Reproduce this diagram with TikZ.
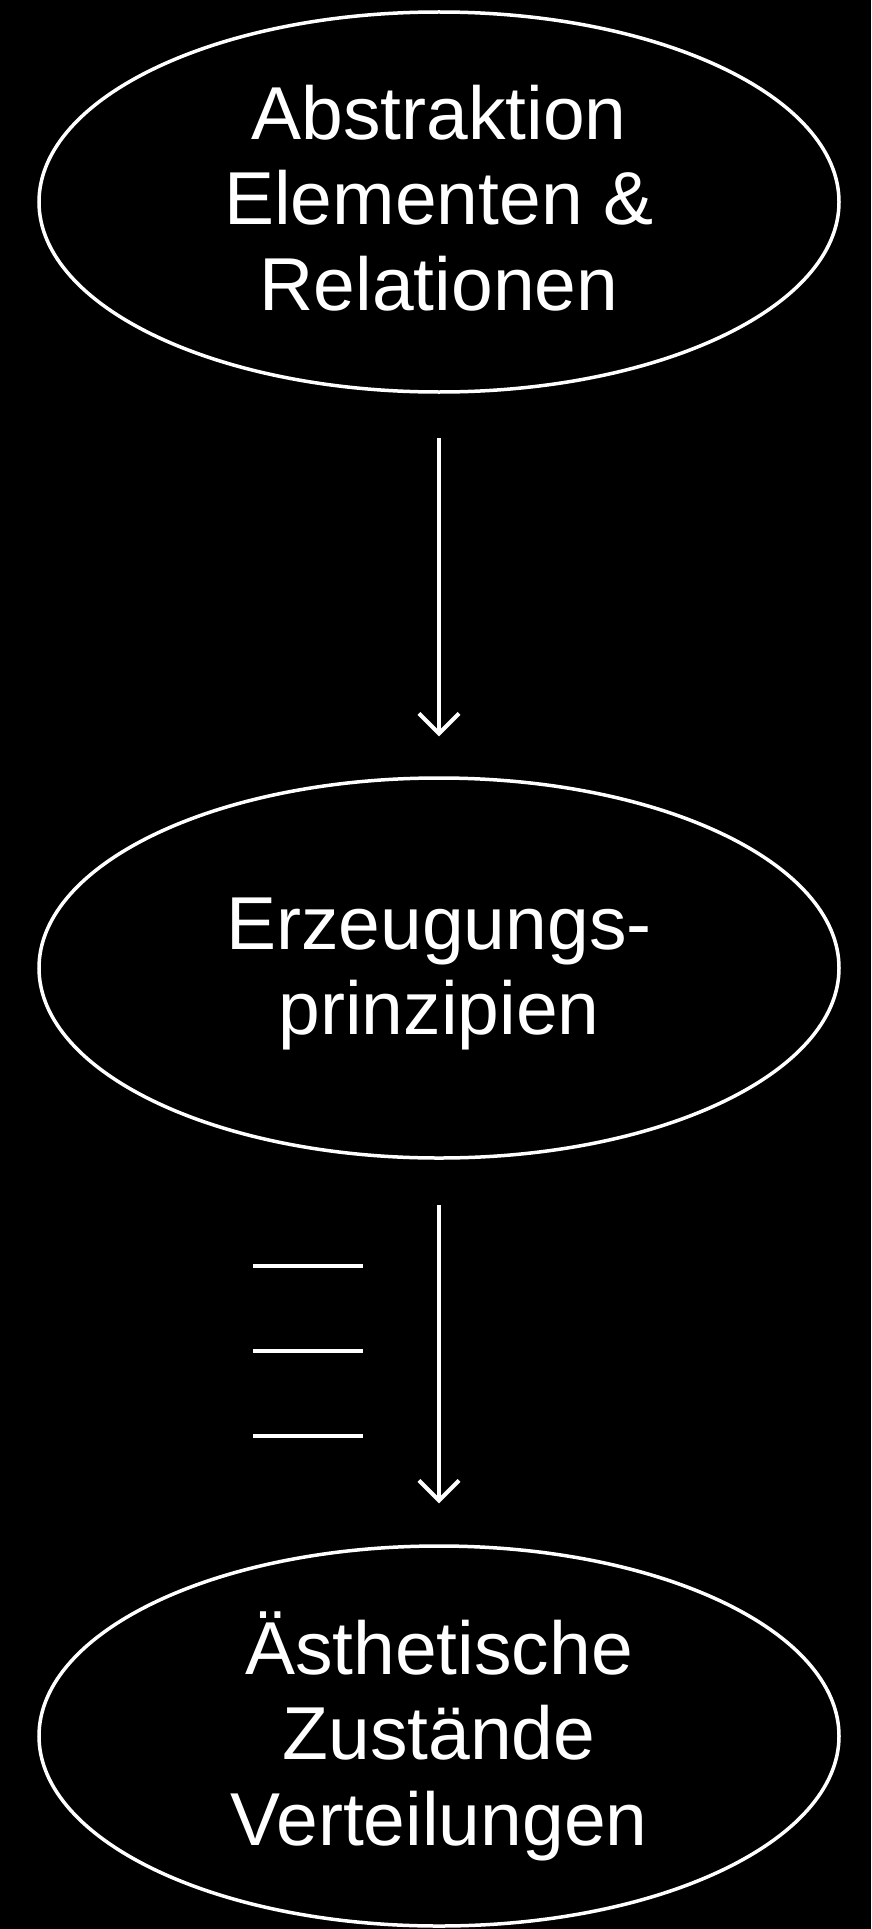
\documentclass[tikz,border=0pt]{standalone}
\usepackage{fontspec}
\setmainfont{Liberation Sans}
\usetikzlibrary{shapes.geometric,arrows.meta}
\begin{document}
\begin{tikzpicture}[x=1pt,y=-1pt,
  stage/.style={draw=white, line width=3.5pt, ellipse, minimum width=800pt, minimum height=380pt,
    inner sep=0pt},
  words/.style={inner sep=0pt, text=white, align=center, font=\fontsize{75}{85.5}\selectfont},
  flow/.style={draw=white, line width=4pt, -{Straight Barb[length=20pt,width=40pt,line width=4pt]}},
  bar/.style={draw=white, line width=4pt}]
\fill[black] (0,0) rectangle (871,1929);
\useasboundingbox (0,0) rectangle (871,1929);
\node[stage] (e1) at (439,202) {};
\node[stage] (e2) at (439,968) {};
\node[stage] (e3) at (439,1736) {};
\node[words] (t1) at ([yshift=4pt]e1.center) {Abstraktion\\Elementen \&\\Relationen};
\node[words] (t2) at ([yshift=-6pt]e2.center) {Erzeugungs-\\prinzipien};
\node[words] (t3) at (e3.center) {Ästhetische\\Zustände\\Verteilungen};
\draw[flow, shorten <=44pt, shorten >=40pt] (e1.south) -- (e2.north);
\draw[flow, shorten <=45pt, shorten >=41pt] (e2.south) -- (e3.north);
\coordinate (d1a) at (253,1266); \coordinate (d1b) at (363,1266);
\coordinate (d2a) at (253,1351); \coordinate (d2b) at (363,1351);
\coordinate (d3a) at (253,1436); \coordinate (d3b) at (363,1436);
\draw[bar] (d1a) -- (d1b);
\draw[bar] (d2a) -- (d2b);
\draw[bar] (d3a) -- (d3b);
\end{tikzpicture}
\end{document}
